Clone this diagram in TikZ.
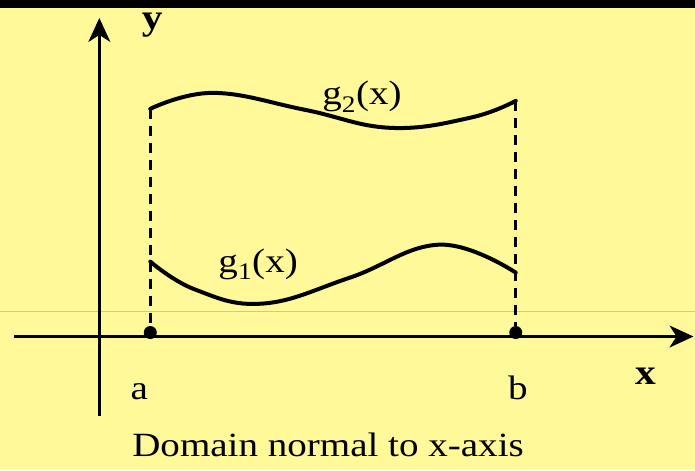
\documentclass[tikz,border=0pt]{standalone}
\usepackage{fontspec}
\setmainfont{Liberation Serif}
\usetikzlibrary{arrows.meta}
\definecolor{paper}{HTML}{FFF99A}
\definecolor{rulec}{HTML}{CFC98F}
\newcommand{\wtext}[1]{\scalebox{1.15}[1]{#1}}
\tikzset{
  axis/.style  ={line width=2.6pt,-{Stealth[length=24pt,width=22pt,inset=7pt]}},
  curve/.style ={line width=4pt,line cap=round},
  guide/.style ={line width=2.6pt,dash pattern=on 10pt off 7pt},
  dot/.style   ={circle,fill=black,inner sep=0pt,minimum size=13pt},
  lbl/.style   ={font=\fontsize{34}{36}\selectfont,inner sep=0pt,anchor=base},
  axlbl/.style ={lbl,font=\fontsize{36}{38}\selectfont\bfseries},
}
\begin{document}
\begin{tikzpicture}[x=1pt,y=-1pt]
    % backdrop
    \fill[paper] (0,0) rectangle (695,471);
    \fill[black] (0,0) rectangle (695,8);
    \draw[rulec,line width=1pt] (0,312) -- (695,312);
    \useasboundingbox (0,0) rectangle (695,471);

    % axes
    \coordinate (xs) at (14,337);
    \coordinate (xe) at (694,337);
    \coordinate (ys) at (99,417);
    \coordinate (ye) at (99,18);
    \draw[axis] (xs) -- (xe);
    \draw[axis] (ys) -- (ye);
    \node[axlbl] (xl) at (646,385) {\wtext{x}};
    \node[axlbl] (yl) at (152,30) {\wtext{y}};

    % end points of the domain
    \node[dot] (da) at (150,333) {};
    \node[dot] (db) at (516,333) {};
    \node[lbl] (la) at (139,400) {\wtext{a}};
    \node[lbl] (lb) at (518,400) {\wtext{b}};

    % bounding curves
    \coordinate (g2a) at (150,109);
    \coordinate (g2b) at (516,101);
    \coordinate (g1a) at (150,262);
    \coordinate (g1b) at (516,273);
    \draw[curve] plot[smooth,tension=0.7] coordinates
      {(g2a) (213,93) (305,110) (390,128) (470,118) (g2b)};
    \draw[curve] plot[smooth,tension=0.7] coordinates
      {(g1a) (195,290) (263,304) (350,278) (440,245) (g1b)};
    \node[lbl] (g2) at (362,105) {\wtext{g\textsubscript{2}(x)}};
    \node[lbl] (g1) at (258,273) {\wtext{g\textsubscript{1}(x)}};

    % dashed verticals
    \draw[guide] (g2a) -- (da);
    \draw[guide] (g2b) -- (db);

    \node[lbl] (cap) at (328,457) {\wtext{Domain normal to x-axis}};
\end{tikzpicture}
\end{document}
